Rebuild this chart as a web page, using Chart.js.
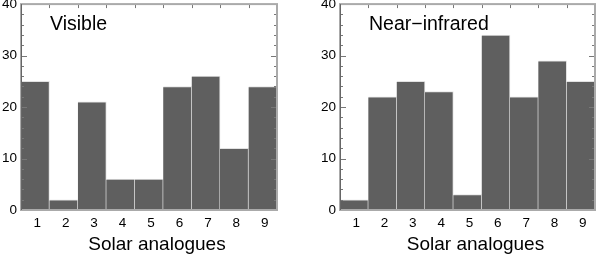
<!DOCTYPE html>
<html>
<head>
<meta charset="utf-8">
<script src="https://cdn.jsdelivr.net/npm/chart.js@4.4.1/dist/chart.umd.min.js"></script>
<style>
  body { margin: 0; background: #fff; overflow: hidden; }
  #wrap { position: relative; width: 597px; height: 257px; overflow: hidden; }
  canvas { position: absolute; top: -8px; }
</style>
</head>
<body>
<div id="wrap">
  <canvas id="vis" width="297" height="265" style="left:0px;width:297px;height:265px"></canvas>
  <canvas id="nir" width="300" height="265" style="left:297px;width:300px;height:265px"></canvas>
</div>
<script>
// data
var categories = ['1', '2', '3', '4', '5', '6', '7', '8', '9'];
var visibleValues = [25, 2, 21, 6, 6, 24, 26, 12, 24];
var nirValues = [2, 22, 25, 23, 3, 34, 22, 29, 25];
var yTickLabels = [0, 10, 20, 30, 40];
var panelNames = ['Visible', 'Near\u2212infrared'];
var xTitle = 'Solar analogues';

var font = 'Liberation Sans, Arial, Helvetica, sans-serif';

// frame, inward tick marks and the texts inside/under the plot
var framePlugin = {
    id: 'frame',
    afterDraw: function (chart, args, opts) {
        var ctx = chart.ctx;
        var ca = chart.chartArea;
        var x = chart.scales.x;
        var y = chart.scales.y;
        ctx.save();
        ctx.strokeStyle = '#777';
        ctx.lineWidth = 1;
        y.ticks.forEach(function (t) {
            var py = Math.round(y.getPixelForValue(t.value)) + 0.5;
            var len = yTickLabels.indexOf(t.value) >= 0 ? 6 : 3;
            ctx.beginPath();
            ctx.moveTo(ca.left, py); ctx.lineTo(ca.left + len, py);
            ctx.moveTo(ca.right, py); ctx.lineTo(ca.right - len, py);
            ctx.stroke();
        });
        for (var i = 1; i < categories.length; i++) {
            var px = Math.round((x.getPixelForValue(i - 1) + x.getPixelForValue(i)) / 2) + 0.5;
            ctx.beginPath();
            ctx.moveTo(px, ca.top); ctx.lineTo(px, ca.top + 4);
            ctx.stroke();
        }
        ctx.strokeStyle = '#aaa';
        ctx.lineWidth = 2;
        ctx.strokeRect(ca.left, ca.top, ca.right - ca.left, ca.bottom - ca.top);
        ctx.strokeStyle = '#666';
        ctx.lineWidth = 1;
        ctx.beginPath();
        ctx.moveTo(ca.left + 0.5, ca.top); ctx.lineTo(ca.left + 0.5, ca.bottom);
        ctx.stroke();

        ctx.fillStyle = '#000';
        ctx.font = '19.5px ' + font;
        ctx.textBaseline = 'alphabetic';
        ctx.textAlign = 'left';
        ctx.fillText(opts.label, ca.left + 29, ca.top + 26);

        ctx.font = '19px ' + font;
        ctx.textAlign = 'center';
        ctx.textBaseline = 'middle';
        ctx.fillText(xTitle, (ca.left + ca.right) / 2 + 8, ca.bottom + 35);
        ctx.restore();
    }
};

function makeChart(id, values, label, yWidth, padRight) {
    var ctx = document.getElementById(id).getContext('2d');
    return new Chart(ctx, {
        type: 'bar',
        data: {
            labels: categories,
            datasets: [{
                data: values,
                backgroundColor: '#5f5f5f',
                borderColor: '#e2e2e2',
                borderWidth: { top: 1, right: 1, left: 0, bottom: 0 },
                borderSkipped: false,
                barPercentage: 1,
                categoryPercentage: 1
            }]
        },
        options: {
            responsive: false,
            animation: false,
            layout: { padding: { top: 9, right: padRight, left: 0, bottom: 0 } },
            plugins: {
                legend: { display: false },
                tooltip: { enabled: false },
                frame: { label: label }
            },
            scales: {
                x: {
                    grid: { display: false, drawTicks: false },
                    border: { display: false },
                    ticks: { color: '#000', font: { family: font, size: 13.5 }, padding: 5, labelOffset: 2 },
                    afterFit: function (s) { s.height = 47; }
                },
                y: {
                    min: 0,
                    max: 40,
                    grid: { display: false, drawTicks: false },
                    border: { display: false },
                    ticks: {
                        stepSize: 2,
                        autoSkip: false,
                        color: '#000',
                        font: { family: font, size: 13.5 },
                        padding: 4,
                        callback: function (v) { return yTickLabels.indexOf(v) >= 0 ? String(v) : ''; }
                    },
                    afterFit: function (s) { s.width = yWidth; }
                }
            }
        },
        plugins: [framePlugin]
    });
}

makeChart('vis', visibleValues, panelNames[0], 21, 20);
makeChart('nir', nirValues, panelNames[1], 43, 2);
</script>
</body>
</html>
